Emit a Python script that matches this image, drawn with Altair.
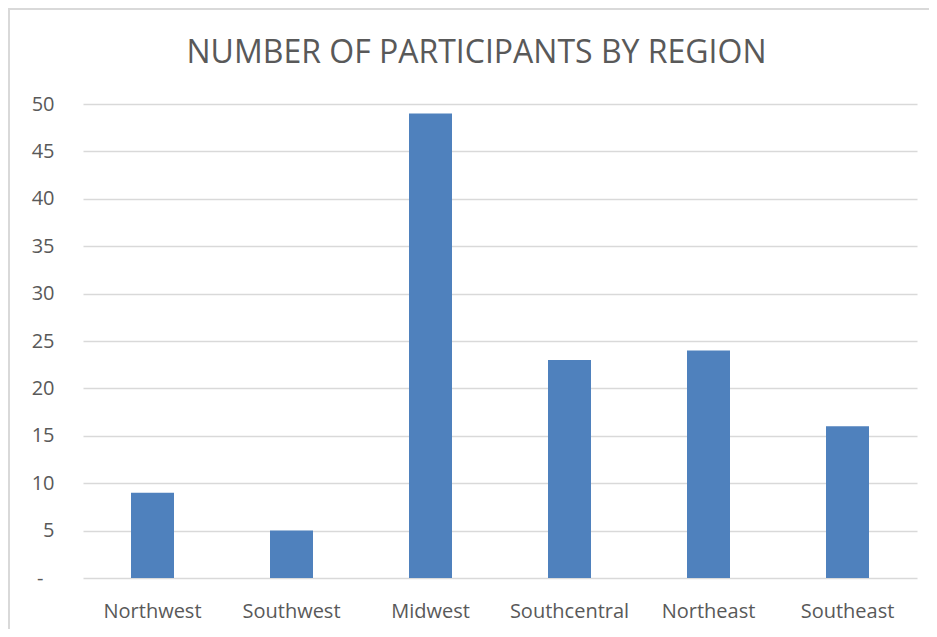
import altair as alt
import pandas as pd

regions = ["Northwest", "Southwest", "Midwest", "Southcentral", "Northeast", "Southeast"]
participants = [9, 5, 49, 23, 24, 16]
y_ticks = [0, 5, 10, 15, 20, 25, 30, 35, 40, 45, 50]
title_text = "NUMBER OF PARTICIPANTS BY REGION"

df = pd.DataFrame({"Region": regions, "Participants": participants})

FONT = "Open Sans"
GRAY = "#595959"
W, H = 834, 474

bars = alt.Chart(df).mark_bar(color="#4F81BD", size=43).encode(
    x=alt.X("Region:N", sort=regions,
            scale=alt.Scale(paddingInner=0, paddingOuter=0),
            axis=alt.Axis(title=None, labelAngle=0, ticks=False, domain=False,
                          labelFont=FONT, labelFontSize=20, labelColor=GRAY,
                          labelPadding=23)),
    y=alt.Y("Participants:Q",
            scale=alt.Scale(domain=[0, 50], nice=False),
            axis=alt.Axis(title=None, values=y_ticks, ticks=False, domain=False,
                          labelFont=FONT, labelFontSize=20, labelColor=GRAY,
                          labelPadding={"condition": {"test": "datum.value == 0", "value": 40},
                                        "value": 29},
                          gridColor="#d9d9d9", gridWidth=1.3,
                          labelExpr="datum.value == 0 ? '-' : datum.label")),
)

border = alt.Chart(pd.DataFrame({"b": [0]})).mark_rect(
    fill=None, stroke="#d9d9d9", strokeWidth=2
).encode(
    x=alt.value(-74), x2=alt.value(W + 60),
    y=alt.value(-95), y2=alt.value(H + 120),
)

title = alt.Chart(pd.DataFrame({"t": [title_text]})).mark_text(
    font=FONT, fontSize=32, color=GRAY, align="center", baseline="alphabetic"
).encode(
    text="t:N",
    x=alt.value(W / 2 - 23.5),
    y=alt.value(-41),
)

chart = alt.layer(border, bars, title).properties(
    width=W,
    height=H,
    padding={"left": 75, "top": 96, "right": 12, "bottom": 51},
    autosize=alt.AutoSizeParams(type="none"),
    background="white",
).configure_view(stroke=None)

chart.save("out.html", embed_options={"renderer": "svg", "actions": False})
